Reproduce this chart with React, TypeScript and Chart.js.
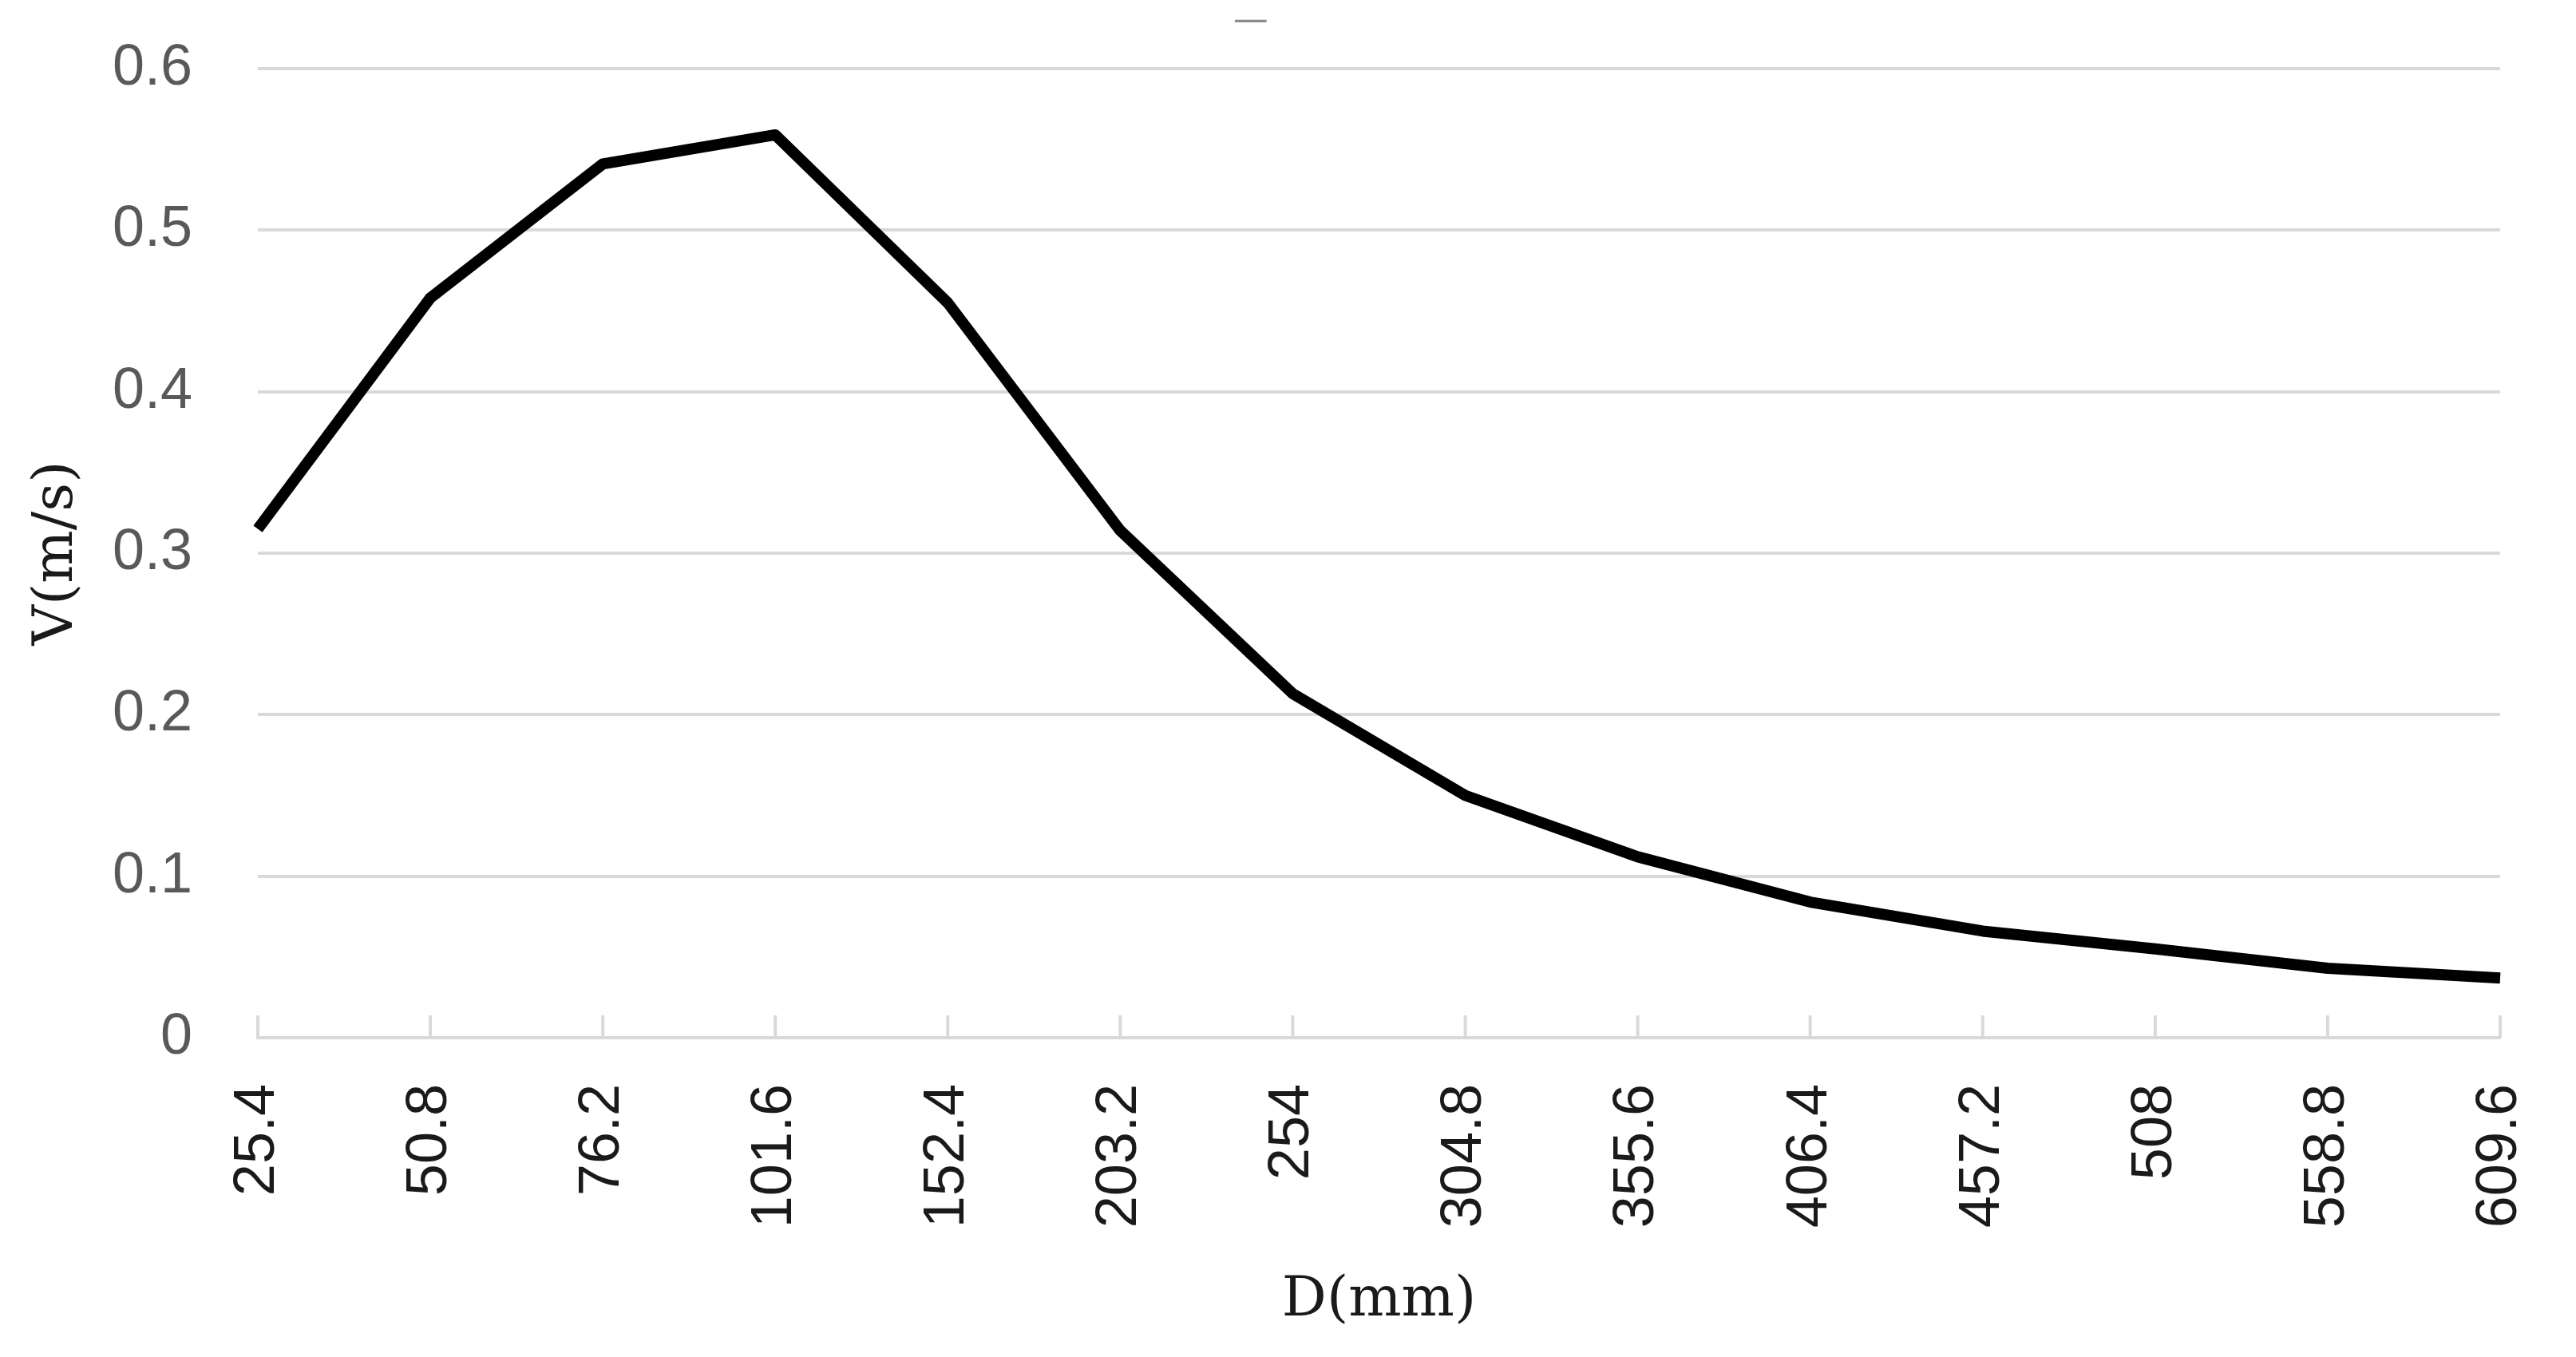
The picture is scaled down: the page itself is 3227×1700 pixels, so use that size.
import React, { useEffect, useRef } from "react";
import { Chart, registerables } from "chart.js";

Chart.register(...registerables);

const categories = ["25.4", "50.8", "76.2", "101.6", "152.4", "203.2", "254", "304.8", "355.6", "406.4", "457.2", "508", "558.8", "609.6"];
const velocity = [0.315, 0.458, 0.541, 0.559, 0.455, 0.314, 0.213, 0.15, 0.112, 0.084, 0.066, 0.055, 0.043, 0.037];
const yTicks = [0, 0.1, 0.2, 0.3, 0.4, 0.5, 0.6];
const xTitle = "D(mm)";
const yTitle = "V(m/s)";

const innerTicks = {
  id: "innerTicks",
  afterDatasetsDraw(chart: any) {
    const x = chart.scales.x;
    const { ctx, chartArea } = chart;
    ctx.save();
    ctx.strokeStyle = "#d9d9d9";
    ctx.lineWidth = 4;
    for (let i = 0; i < x.ticks.length; i++) {
      const px = x.getPixelForTick(i);
      ctx.beginPath();
      ctx.moveTo(px, chartArea.bottom);
      ctx.lineTo(px, chartArea.bottom - 28);
      ctx.stroke();
    }
    ctx.restore();
  },
};

const topDash = {
  id: "topDash",
  afterDraw(chart: any) {
    const { ctx } = chart;
    ctx.save();
    ctx.fillStyle = "#8c8c8c";
    ctx.font = "44px 'DejaVu Sans'";
    ctx.textAlign = "center";
    ctx.textBaseline = "middle";
    ctx.fillText("\u2014", chart.width * 0.4855, 28);
    ctx.restore();
  },
};

export default function App() {
  const ref = useRef<HTMLCanvasElement | null>(null);
  useEffect(() => {
    document.body.style.margin = "0";
    const chart = new Chart(ref.current as HTMLCanvasElement, {
      type: "line",
      data: {
        labels: categories,
        datasets: [
          {
            data: velocity,
            borderColor: "#000000",
            borderWidth: 14,
            borderJoinStyle: "round",
            pointRadius: 0,
            tension: 0,
            fill: false,
          },
        ],
      },
      options: {
        animation: false,
        responsive: false,
        devicePixelRatio: 1,
        layout: { padding: { left: 0, right: 95, top: 86, bottom: 0 } },
        plugins: { legend: { display: false }, tooltip: { enabled: false }, title: { display: false } },
        scales: {
          x: {
            offset: false,
            grid: { display: true, drawOnChartArea: false, drawTicks: false },
            border: { display: true, color: "#d9d9d9", width: 4 },
            ticks: {
              minRotation: 90,
              maxRotation: 90,
              autoSkip: false,
              padding: 58,
              color: "#1a1a1a",
              font: { family: "'Liberation Sans'", size: 72 },
            },
            title: {
              display: true,
              text: xTitle,
              color: "#1a1a1a",
              font: { family: "'DejaVu Serif'", size: 70 },
              padding: { top: 0, bottom: 28 },
            },
            afterFit: (s: any) => {
              s.height = 400;
              s.paddingLeft = 0;
              s.paddingRight = 0;
            },
          },
          y: {
            min: 0,
            max: 0.6,
            afterBuildTicks: (s: any) => {
              s.ticks = yTicks.map((v) => ({ value: v }));
            },
            grid: { color: "#d9d9d9", lineWidth: 4, drawTicks: false },
            border: { display: false },
            ticks: {
              padding: 82,
              color: "#595959",
              font: { family: "'Liberation Sans'", size: 72 },
            },
            title: {
              display: true,
              text: yTitle,
              color: "#1a1a1a",
              font: { family: "'DejaVu Serif'", size: 70 },
              padding: { top: 30, bottom: 0 },
            },
            afterFit: (s: any) => {
              s.width = 323;
              s.paddingTop = 0;
              s.paddingBottom = 0;
            },
          },
        },
      },
      plugins: [innerTicks, topDash],
    });
    return () => chart.destroy();
  }, []);
  return <canvas ref={ref} width={3227} height={1700} style={{ display: "block" }} />;
}
